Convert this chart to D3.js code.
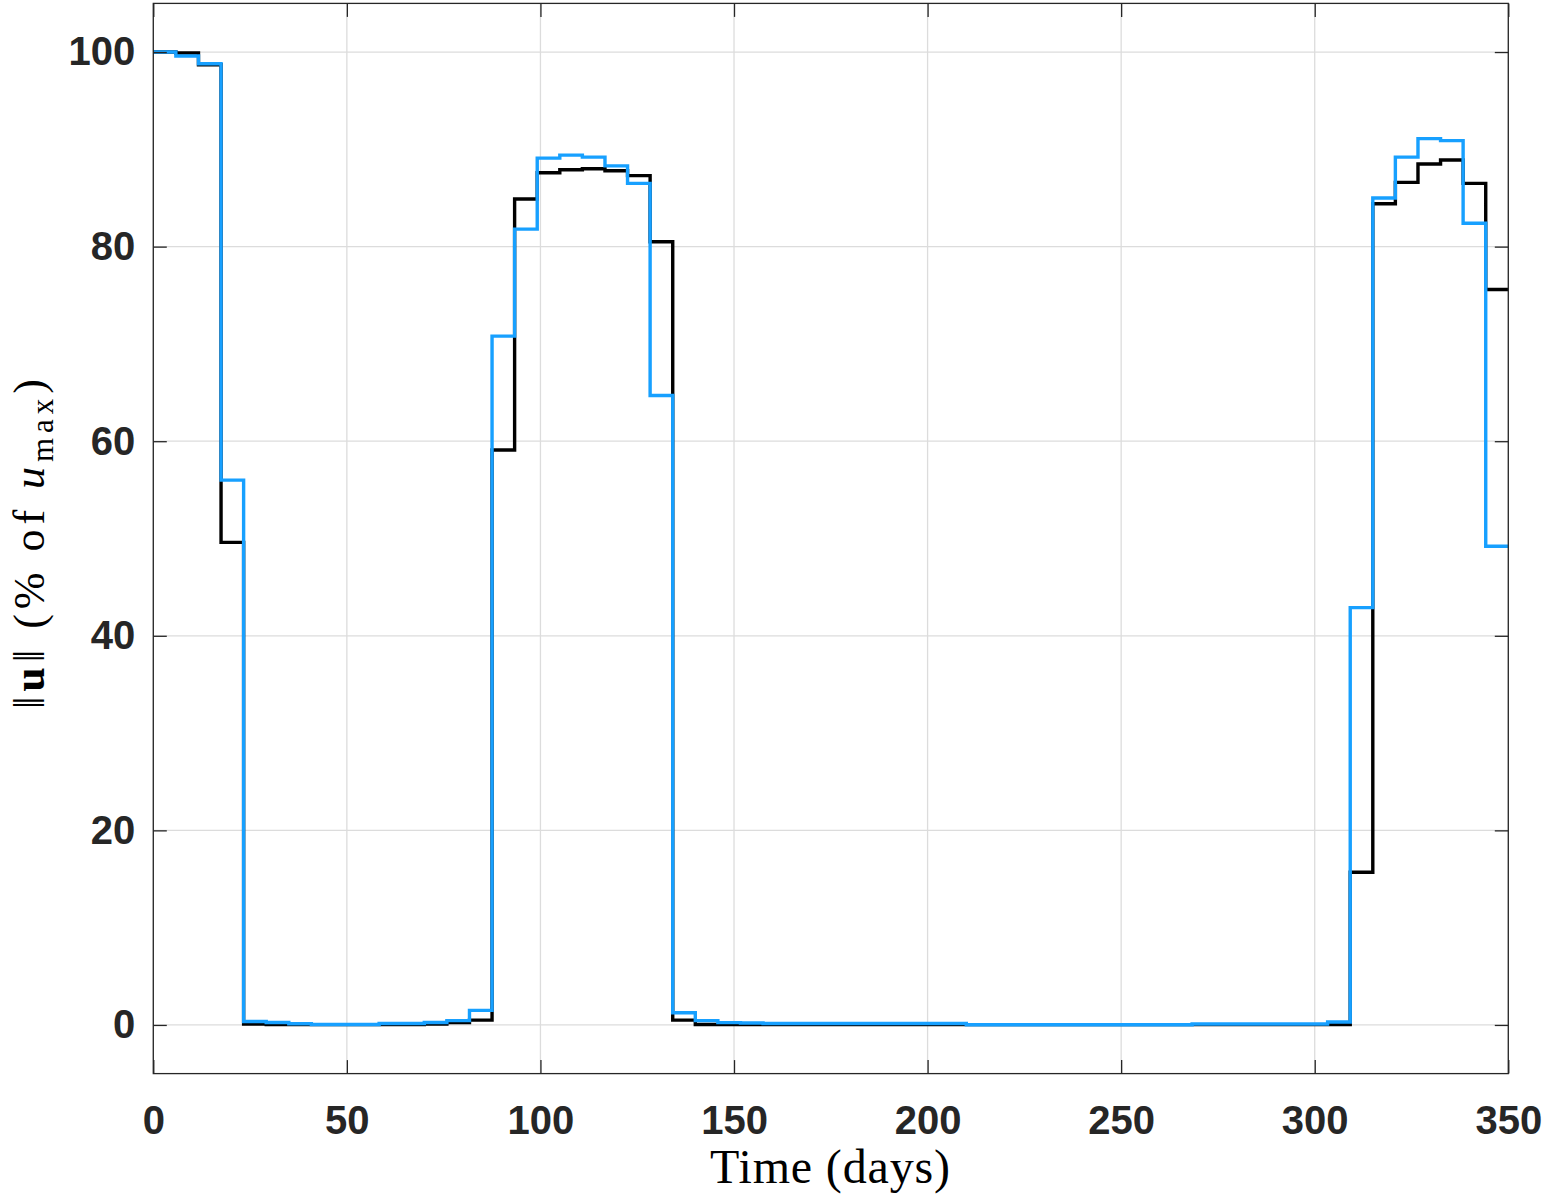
<!DOCTYPE html>
<html>
<head>
<meta charset="utf-8">
<script src="https://cdn.jsdelivr.net/npm/d3@7"></script>
<style>
  html, body { margin: 0; padding: 0; background: #fff; }
  svg { display: block; }
</style>
</head>
<body>
<svg id="chart" width="1544" height="1199"></svg>
<script>
// Step start times (days), plus final end time
const stepEdges = [0, 5.83, 11.67, 17.5, 23.33, 29.17, 35, 40.83, 46.67, 52.5,
  58.33, 64.17, 70, 75.83, 81.67, 87.5, 93.33, 99.17, 105, 110.83,
  116.67, 122.5, 128.33, 134.17, 140, 145.83, 151.67, 157.5, 163.33, 169.17,
  175, 180.83, 186.67, 192.5, 198.33, 204.17, 210, 215.83, 221.67, 227.5,
  233.33, 239.17, 245, 250.83, 256.67, 262.5, 268.33, 274.17, 280, 285.83,
  291.67, 297.5, 303.33, 309.17, 315, 320.83, 326.67, 332.5, 338.33, 344.17, 350];

// Black series (% of u_max)
const blackValues = [100, 99.9, 98.7, 49.6, 0.1, 0.05, 0.03, 0.03, 0.03, 0.03,
  0.03, 0.03, 0.1, 0.25, 0.5, 59.1, 84.9, 87.6, 87.9, 88.0,
  87.8, 87.3, 80.5, 0.5, 0.05, 0.03, 0.03, 0.03, 0.03, 0.03,
  0.03, 0.03, 0.03, 0.03, 0.03, 0.03, 0.03, 0.03, 0.03, 0.03,
  0.03, 0.03, 0.03, 0.03, 0.03, 0.03, 0.03, 0.03, 0.03, 0.03,
  0.03, 0.03, 0.03, 15.7, 84.4, 86.6, 88.5, 88.9, 86.5, 75.6];

// Blue series (% of u_max)
const blueValues = [100, 99.6, 98.8, 56.0, 0.35, 0.25, 0.12, 0.05, 0.05, 0.05,
  0.15, 0.15, 0.25, 0.45, 1.5, 70.8, 81.8, 89.1, 89.4, 89.2,
  88.3, 86.5, 64.7, 1.25, 0.45, 0.24, 0.2, 0.15, 0.15, 0.15,
  0.15, 0.15, 0.15, 0.15, 0.15, 0.15, 0.02, 0.02, 0.02, 0.02,
  0.02, 0.02, 0.02, 0.02, 0.02, 0.02, 0.1, 0.1, 0.1, 0.1,
  0.1, 0.1, 0.3, 42.9, 85.0, 89.2, 91.1, 90.9, 82.4, 49.2];

const xTicks = [0, 50, 100, 150, 200, 250, 300, 350];
const yTicks = [0, 20, 40, 60, 80, 100];
const xDomain = [0, 350];
const yDomain = [-5, 105];

const svg = d3.select("#chart");
const L = 153.3, R = 1508.3, T = 3.4, B = 1073.6;
const x = d3.scaleLinear().domain(xDomain).range([L, R]);
const y = d3.scaleLinear().domain(yDomain).range([B, T]);
const axisColor = "#262626";
const tickLen = 13.5;

// grid
const grid = svg.append("g");
grid.selectAll("line.gx").data(xTicks).join("line")
  .attr("x1", d => x(d)).attr("x2", d => x(d))
  .attr("y1", T).attr("y2", B)
  .attr("stroke", "#dcdcdc").attr("stroke-width", 1.3);
grid.selectAll("line.gy").data(yTicks).join("line")
  .attr("x1", L).attr("x2", R)
  .attr("y1", d => y(d)).attr("y2", d => y(d))
  .attr("stroke", "#dcdcdc").attr("stroke-width", 1.3);

// series
function stepData(vals) {
  const pts = vals.map((v, i) => [stepEdges[i], v]);
  pts.push([stepEdges[stepEdges.length - 1], vals[vals.length - 1]]);
  return pts;
}
const line = d3.line().x(d => x(d[0])).y(d => y(d[1])).curve(d3.curveStepAfter);
svg.append("path").attr("d", line(stepData(blackValues)))
  .attr("fill", "none").attr("stroke", "#000").attr("stroke-width", 3.4)
  .attr("stroke-linejoin", "miter");
svg.append("path").attr("d", line(stepData(blueValues)))
  .attr("fill", "none").attr("stroke", "#17a0ff").attr("stroke-width", 3.4)
  .attr("stroke-linejoin", "miter");

// axes with d3 axis generators (inner ticks)
const fontTick = "'Liberation Sans', Arial, Helvetica, sans-serif";
const xAxisB = d3.axisBottom(x).tickValues(xTicks).tickSizeInner(-tickLen).tickSizeOuter(0).tickPadding(32);
const xAxisT = d3.axisTop(x).tickValues(xTicks).tickSizeInner(-tickLen).tickSizeOuter(0).tickFormat("");
const yAxisL = d3.axisLeft(y).tickValues(yTicks).tickSizeInner(-tickLen).tickSizeOuter(0).tickPadding(32);
const yAxisR = d3.axisRight(y).tickValues(yTicks).tickSizeInner(-tickLen).tickSizeOuter(0).tickFormat("");

function styleAxis(g) {
  g.select(".domain").remove();
  g.selectAll(".tick line").attr("stroke", axisColor).attr("stroke-width", 1.3);
  g.selectAll(".tick text").attr("fill", axisColor)
    .style("font-family", fontTick).style("font-weight", "bold").style("font-size", "40px");
}
svg.append("g").attr("transform", `translate(0,${B})`).call(xAxisB).call(styleAxis)
  .selectAll(".tick text").attr("dy", "0.71em").attr("y", 32);
svg.append("g").attr("transform", `translate(0,${T})`).call(xAxisT).call(styleAxis);
svg.append("g").attr("transform", `translate(${L},0)`).call(yAxisL).call(styleAxis)
  .selectAll(".tick text").attr("x", -18);
svg.append("g").attr("transform", `translate(${R},0)`).call(yAxisR).call(styleAxis);

// box
svg.append("rect").attr("x", L).attr("y", T).attr("width", R - L).attr("height", B - T)
  .attr("fill", "none").attr("stroke", axisColor).attr("stroke-width", 1.3);

// axis labels
const fontSerif = "'Liberation Serif', 'DejaVu Serif', serif";
svg.append("text").attr("x", 830).attr("y", 1183)
  .attr("text-anchor", "middle").attr("fill", "#000")
  .attr("textLength", 240).attr("lengthAdjust", "spacing")
  .style("font-family", fontSerif).style("font-size", "48px")
  .text("Time (days)");

const yl = svg.append("text")
  .attr("transform", `translate(44,544) rotate(-90)`)
  .attr("text-anchor", "middle").attr("fill", "#000")
  .attr("textLength", 330).attr("lengthAdjust", "spacing")
  .style("font-family", fontSerif).style("font-size", "44px");
yl.append("tspan").text("\u2016");
yl.append("tspan").style("font-weight", "bold").text("u");
yl.append("tspan").text("\u2016 (% of ");
yl.append("tspan").style("font-style", "italic").text("u");
yl.append("tspan").attr("baseline-shift", "-30%").style("font-size", "31px").text("max");
yl.append("tspan").text(")");
</script>
</body>
</html>
